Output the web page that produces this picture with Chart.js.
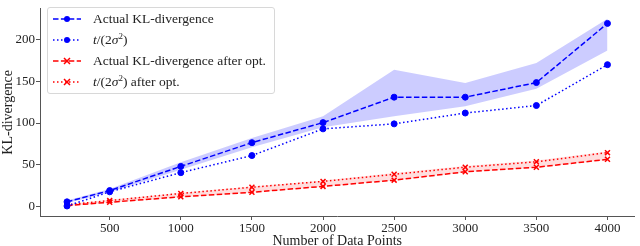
<!DOCTYPE html>
<html>
<head>
<meta charset="utf-8">
<script src="https://cdn.jsdelivr.net/npm/chart.js@4"></script>
<style>
  html, body { margin: 0; padding: 0; background: #fff; overflow: hidden; }
  #wrap { position: relative; width: 640px; height: 246px; overflow: hidden; }
  #legend {
    position: absolute; left: 47px; top: 7px; width: 226px; height: 85px;
    border: 1px solid #d8d8d8; border-radius: 3px; background: rgba(255,255,255,0.85);
    font-family: 'Liberation Serif', serif; font-size: 13.5px; color: #222;
  }
  .row { position: absolute; left: 4px; height: 20px; line-height: 20px; white-space: nowrap; }
  .row svg { position: absolute; left: 0; top: 4px; }
  .row span { position: absolute; left: 41px; top: 0; line-height: 20px; }
  .row sup { font-size: 9px; line-height: 0; vertical-align: 5px; }
</style>
</head>
<body>
<div id="wrap">
  <canvas id="grafico" width="640" height="250"></canvas>
  <div id="legend"></div>
</div>
<script>
const puntos = [200, 500, 1000, 1500, 2000, 2500, 3000, 3500, 4000];
const klReal = [5.5, 19, 48, 76.5, 100.5, 131, 131, 148.5, 219.5];
const klCota = [0.5, 17.5, 40.5, 61, 93, 99, 112, 121, 170];
const klRealBajo = [4, 17, 44, 71, 95, 108, 120, 141, 187];
const klRealAlto = [7, 21, 53, 82, 108, 164, 148, 172, 225];
const klRealOpt = [1, 5, 11.5, 17, 24, 31.5, 41.5, 47, 56.5];
const klCotaOpt = [2, 7, 15.5, 23, 30, 38.5, 47, 53.5, 64.5];
const klOptBajo = [0.5, 4.5, 11, 16.5, 23.5, 31, 41, 46.5, 56];
const klOptAlto = [2.5, 8, 16.5, 24, 31, 40, 48.5, 55, 66];
const xTicks = [500, 1000, 1500, 2000, 2500, 3000, 3500, 4000];
const yTicks = [0, 50, 100, 150, 200];

const nombres = [
  'Actual KL-divergence',
  '<i>t</i>/(2<i>σ</i><sup>2</sup>)',
  'Actual KL-divergence after opt.',
  '<i>t</i>/(2<i>σ</i><sup>2</sup>) after opt.'
];

const AZUL = '#0000ff';
const ROJO = '#ff0000';
const RAYA = [5.5, 2.4];
const PUNTO = [1.5, 2.5];

const pares = ys => puntos.map((x, i) => ({ x: x, y: ys[i] }));

function serie(ys, color, dash, estilo) {
  return {
    data: pares(ys),
    borderColor: color,
    backgroundColor: color,
    borderWidth: 1.5,
    borderDash: dash,
    pointStyle: estilo,
    pointRadius: estilo === 'circle' ? 3 : 3.5,
    pointBorderWidth: estilo === 'circle' ? 1 : 1.5,
    fill: false,
    tension: 0,
    order: 0
  };
}

function banda(ys, relleno, destino) {
  return {
    data: pares(ys),
    borderColor: 'rgba(0,0,0,0)',
    borderWidth: 0,
    pointRadius: 0,
    backgroundColor: relleno,
    fill: destino === null ? false : destino,
    tension: 0,
    order: 1
  };
}

// leyenda en HTML, dentro del area del grafico
const leyenda = document.getElementById('legend');
const estilosLeyenda = [
  [AZUL, RAYA, 'circle'], [AZUL, PUNTO, 'circle'], [ROJO, RAYA, 'x'], [ROJO, PUNTO, 'x']
];
estilosLeyenda.forEach(([color, dash, marca], i) => {
  const fila = document.createElement('div');
  fila.className = 'row';
  fila.style.top = (1 + i * 21) + 'px';
  let m = marca === 'circle'
    ? `<circle cx="15" cy="6" r="3" fill="${color}"/>`
    : `<path d="M12 3 L18 9 M18 3 L12 9" stroke="${color}" stroke-width="1.5"/>`;
  fila.innerHTML = `<svg width="30" height="12"><line x1="1" y1="6" x2="29" y2="6" stroke="${color}" stroke-width="1.5" stroke-dasharray="${dash.join(' ')}"/>${m}</svg><span>${nombres[i]}</span>`;
  leyenda.appendChild(fila);
});

const fuente = { family: "'Liberation Serif', serif", size: 13 };

new Chart(document.getElementById('grafico').getContext('2d'), {
  type: 'line',
  data: {
    datasets: [
      serie(klReal, AZUL, RAYA, 'circle'),
      serie(klCota, AZUL, PUNTO, 'circle'),
      serie(klRealOpt, ROJO, RAYA, 'crossRot'),
      serie(klCotaOpt, ROJO, PUNTO, 'crossRot'),
      banda(klRealBajo, 'rgba(0,0,255,0.2)', null),
      banda(klRealAlto, 'rgba(0,0,255,0.2)', 4),
      banda(klOptBajo, 'rgba(255,0,0,0.13)', null),
      banda(klOptAlto, 'rgba(255,0,0,0.13)', 6)
    ]
  },
  options: {
    responsive: false,
    animation: false,
    devicePixelRatio: 1,
    layout: { padding: { top: 0, right: 1, left: 0, bottom: 0 } },
    plugins: { legend: { display: false }, tooltip: { enabled: false } },
    scales: {
      x: {
        type: 'linear',
        min: 10,
        max: 4190,
        afterBuildTicks: s => { s.ticks = xTicks.map(v => ({ value: v })); },
        afterFit: s => { s.height = 34; },
        grid: { drawOnChartArea: false, drawTicks: true, tickLength: 4, color: '#555' },
        border: { color: '#555', width: 1 },
        ticks: { font: fuente, color: '#222', padding: 1, maxRotation: 0, callback: v => String(v) },
        title: {
          display: true, text: 'Number of Data Points', color: '#222',
          font: { family: "'Liberation Serif', serif", size: 14 }, padding: 0
        }
      },
      y: {
        type: 'linear',
        min: -11.5,
        max: 237,
        afterBuildTicks: s => { s.ticks = yTicks.map(v => ({ value: v })); },
        afterFit: s => { s.width = 40; },
        grid: { drawOnChartArea: false, drawTicks: true, tickLength: 4, color: '#555' },
        border: { color: '#555', width: 1 },
        ticks: { font: fuente, color: '#222', padding: 1, callback: v => String(v) },
        title: {
          display: true, text: 'KL-divergence', color: '#222',
          font: { family: "'Liberation Serif', serif", size: 14 }, padding: 0
        }
      }
    }
  }
});
</script>
</body>
</html>
